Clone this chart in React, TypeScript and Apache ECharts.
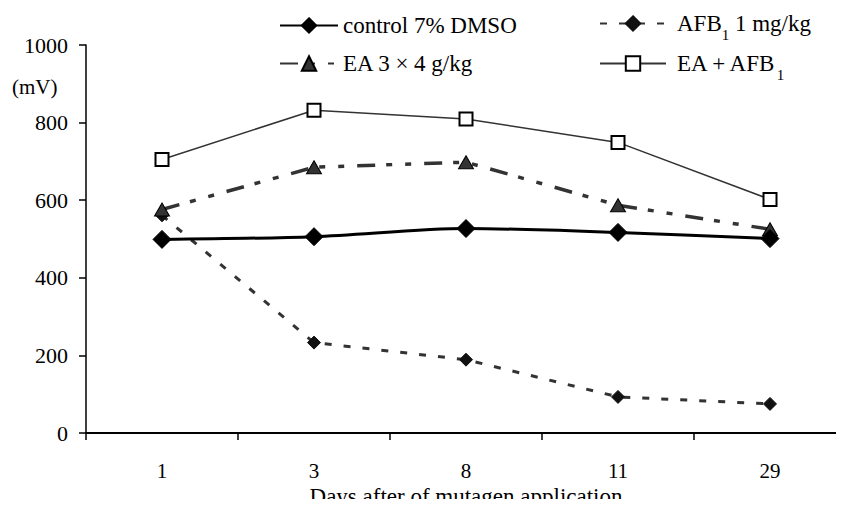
import React, { useEffect, useRef } from "react";
import * as echarts from "echarts";

const days = ["1", "3", "8", "11", "29"];
const control = [499, 506, 527, 517, 501];
const afb1 = [561, 233, 189, 93, 75];
const ea = [576, 685, 698, 587, 525];
const eaAfb1 = [705, 832, 809, 749, 602];
const yTicks = { min: 0, max: 1000, interval: 200 };
const xName = "Days after of mutagen application";
const yUnit = "(mV)";

const FONT = "Liberation Serif";

export default function App() {
  const ref = useRef<HTMLDivElement>(null);
  useEffect(() => {
    if (!ref.current) return;
    const chart = echarts.init(ref.current, null, { renderer: "svg" });
    const rich = {
      n: { fontSize: 23, fontFamily: FONT, color: "#000", lineHeight: 22 },
      s: { fontSize: 15, fontFamily: FONT, color: "#000", lineHeight: 15, padding: [22, 0, 0, 0] },
    };
    const fmt = (name: string) => {
      if (name === "AFB1 1 mg/kg") return "{n|AFB}{s|1}{n| 1 mg/kg}";
      if (name === "EA + AFB1") return "{n|EA + AFB}{s|1}";
      return "{n|" + name + "}";
    };
    chart.setOption({
      animation: false,
      backgroundColor: "#fff",
      legend: [
        {
          orient: "vertical",
          itemHeight: 18,
          itemGap: 15,
          selectedMode: false,
          left: 274,
          top: 9,
          itemWidth: 58,
          textStyle: { fontSize: 23, fontFamily: FONT, color: "#000", lineHeight: 22, rich },
          formatter: fmt,
          data: ["control 7% DMSO", "EA 3 × 4 g/kg"],
        },
        {
          orient: "vertical",
          itemHeight: 18,
          itemGap: 3,
          selectedMode: false,
          left: 594,
          top: 0,
          itemWidth: 66,
          textStyle: { fontSize: 23, fontFamily: FONT, color: "#000", lineHeight: 22, padding: [0, 0, 0, 6], rich },
          formatter: fmt,
          data: ["AFB1 1 mg/kg", "EA + AFB1"],
        },
      ],
      graphic: [
        {
          type: "text",
          left: 12,
          top: 76,
          style: { text: yUnit, fontSize: 21, fontFamily: FONT, fill: "#000" },
        },
        {
          type: "text",
          x: 466,
          y: 496,
          style: {
            text: xName,
            fontSize: 23,
            fontFamily: FONT,
            fill: "#000",
            textAlign: "center",
            textVerticalAlign: "middle",
          },
        },
      ],
      grid: { left: 86, top: 45, bottom: 74, width: 760, containLabel: false, outerBoundsMode: "none" },
      xAxis: {
        type: "category",
        data: days,
        boundaryGap: true,
        axisLine: { lineStyle: { color: "#000", width: 2 } },
        axisTick: { show: true, length: 7, lineStyle: { color: "#000", width: 1.5 }, interval: 0 },
        axisLabel: { fontSize: 21, fontFamily: FONT, color: "#000", margin: 27 },
        splitLine: { show: false },
      },
      yAxis: {
        type: "value",
        min: yTicks.min,
        max: yTicks.max,
        interval: yTicks.interval,
        axisLine: { show: true, lineStyle: { color: "#000", width: 1.5 } },
        axisTick: { show: true, length: 7, lineStyle: { color: "#000", width: 1.5 } },
        axisLabel: {
          fontSize: 22,
          fontFamily: FONT,
          color: "#000",
          margin: 18,
          formatter: (v: number) => String(v),
        },
        splitLine: { show: false },
      },
      series: [
        {
          name: "AFB1 1 mg/kg",
          type: "line",
          data: afb1,
          symbol: "diamond",
          symbolSize: 13,
          lineStyle: { color: "#333", width: 3, type: [7, 12] },
          itemStyle: { color: "#111", borderColor: "#111", borderWidth: 1 },
          z: 2,
        },
        {
          name: "EA 3 × 4 g/kg",
          type: "line",
          data: ea,
          symbol: "triangle",
          symbolSize: [15, 13],
          lineStyle: { color: "#333", width: 3.5, type: [18, 11, 6, 13, 6, 13] },
          itemStyle: { color: "#333", borderColor: "#000", borderWidth: 1 },
          z: 3,
        },
        {
          name: "control 7% DMSO",
          type: "line",
          data: control,
          smooth: 0.3,
          symbol: "diamond",
          symbolSize: 18,
          lineStyle: { color: "#000", width: 3 },
          itemStyle: { color: "#000", borderColor: "#000", borderWidth: 1 },
          z: 4,
        },
        {
          name: "EA + AFB1",
          type: "line",
          data: eaAfb1,
          symbol: "rect",
          symbolSize: 13,
          lineStyle: { color: "#333", width: 1.5 },
          itemStyle: { color: "#fff", borderColor: "#000", borderWidth: 2 },
          z: 5,
        },
      ],
    });
    return () => chart.dispose();
  }, []);
  return <div ref={ref} style={{ width: 844, height: 507, margin: -8 }} />;
}
